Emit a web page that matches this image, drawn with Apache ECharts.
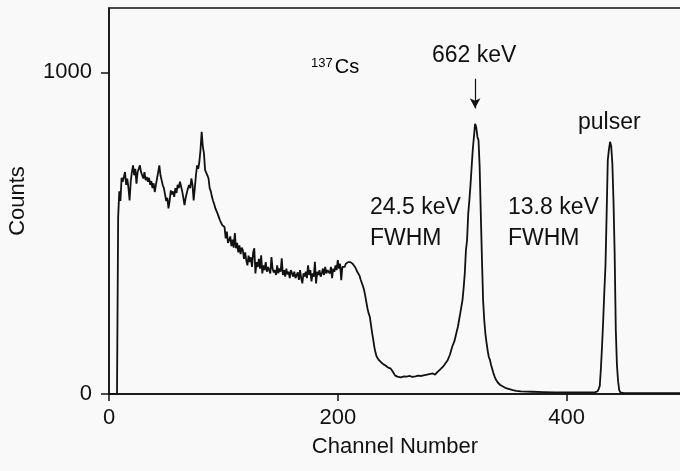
<!DOCTYPE html>
<html>
<head>
<meta charset="utf-8">
<script src="https://cdn.jsdelivr.net/npm/echarts@6/dist/echarts.min.js"></script>
<style>
  html, body { margin: 0; padding: 0; background: #f9f9f9; }
  #chart { width: 680px; height: 471px; }
</style>
</head>
<body>
<div id="chart"></div>
<script>
// 137Cs spectrum.
// one count per channel from channel 8 to 240 (the noisy continuum)
const firstBinChannel = 8;
const binCounts = [
  550, 630, 600, 672, 660, 675, 690, 650, 670, 640, 602, 660, 690, 711, 680, 700, 654, 690, 700, 711,   // 8-27
  690, 680, 670, 690, 665, 675, 660, 672, 650, 662, 640, 655, 628, 650, 670, 690, 711, 680, 665, 649,   // 28-47
  640, 620, 600, 610, 577, 600, 633, 620, 630, 613, 640, 625, 650, 640, 660, 645, 630, 610, 587, 610,   // 48-67
  625, 639, 650, 640, 670, 650, 602, 640, 680, 711, 700, 722, 760, 815, 770, 748, 696, 700, 680, 670,   // 68-87
  640, 630, 613, 600, 590, 577, 580, 560, 550, 540, 545, 525, 530, 519, 484, 505, 470, 478, 490, 460,   // 88-107
  480, 455, 500, 453, 470, 440, 462, 435, 455, 447, 420, 440, 416, 400, 430, 410, 425, 395, 440, 453,   // 108-127
  375, 410, 395, 420, 390, 431, 375, 400, 385, 410, 380, 395, 385, 375, 426, 390, 378, 385, 370, 400,   // 128-147
  375, 390, 380, 422, 370, 385, 365, 390, 372, 380, 360, 385, 375, 365, 380, 360, 364, 378, 355, 385,   // 148-167
  360, 344, 375, 365, 380, 360, 400, 370, 385, 350, 375, 365, 411, 344, 380, 370, 385, 365, 375, 390,   // 168-187
  370, 395, 375, 385, 391, 375, 395, 360, 390, 380, 400, 385, 416, 390, 405, 354, 395, 400, 395, 405,   // 188-207
  408, 410, 406, 410, 408, 405, 400, 395, 388, 380, 375, 368, 355, 345, 335, 323, 305, 285, 265, 250,   // 208-227
  240, 215, 190, 168, 145, 128, 116, 110, 105, 100, 98, 95, 92                                          // 228-240
];
// below the threshold and beyond channel 240 (peaks and tail)
const lowChannels = [0, 7];
const lowCounts = [0, 0];
const peakChannels = [
  242, 244, 246, 248, 250, 252, 255, 258, 260, 263, 265, 268, 270, 273, 275, 278, 280, 283, 285, 287,
  290, 292, 294, 296, 298, 300, 302, 304, 305, 306, 307, 308, 309, 310, 311, 312, 313, 314, 315, 316,
  317, 318, 319, 320, 321, 322, 323, 324, 325, 326, 327, 328, 329, 330, 331, 332, 333, 334, 335, 336,
  337, 338, 339, 340, 342, 344, 347, 350, 353, 356, 360, 370, 380, 390, 400, 410, 420, 425, 427, 428,
  429, 430, 431, 432, 433, 434, 435, 436, 437, 438, 439, 440, 441, 442, 443, 444, 445, 446, 447, 450,
  470, 500
];
const peakCounts = [
  88, 82, 80, 70, 58, 54, 52, 55, 54, 56, 53, 55, 57, 56, 58, 60, 62, 64, 60, 68,
  78, 85, 95, 105, 122, 147, 165, 195, 209, 230, 250, 271, 292, 330, 375, 447, 478, 560, 602, 650,
  706, 760, 800, 840, 830, 800, 789, 706, 560, 420, 292, 230, 188, 160, 135, 115, 106, 90, 78, 65,
  55, 46, 40, 35, 28, 24, 18, 15, 12, 10, 8, 7, 6, 5, 5, 5, 5, 6, 8, 15,
  25, 80, 150, 230, 320, 400, 560, 727, 760, 784, 770, 716, 600, 437, 200, 90, 40, 12, 5, 3,
  3, 3
];
const xTicks = [0, 200, 400];
const yTicks = [0, 1000];

const ink = '#111';
const font = 'Liberation Sans, Arial, sans-serif';

const spectrum = []
  .concat(lowChannels.map((c, i) => [c, lowCounts[i]]))
  .concat(binCounts.map((v, i) => [firstBinChannel + i, v]))
  .concat(peakChannels.map((c, i) => [c, peakCounts[i]]));

const chart = echarts.init(document.getElementById('chart'));

function label(text, x, y, size) {
  return {
    type: 'text', left: x, top: y,
    style: { text: text, fill: ink, font: size + 'px ' + font }
  };
}

chart.setOption({
  backgroundColor: '#f9f9f9',
  animation: false,
  grid: {
    left: 109, top: 8, width: 572, height: 386,
    outerBoundsMode: 'none', containLabel: false,
    show: true, borderColor: ink, borderWidth: 1.5, backgroundColor: 'transparent'
  },
  xAxis: {
    type: 'value', min: 0, max: 500,
    name: 'Channel Number', nameLocation: 'middle', nameGap: 42,
    nameTextStyle: { color: ink, fontSize: 22, fontFamily: font },
    axisLine: { show: true, lineStyle: { color: ink, width: 1.5 } },
    axisTick: { show: true, length: 7, customValues: xTicks, lineStyle: { color: ink, width: 1.5 } },
    axisLabel: { customValues: xTicks, color: ink, fontSize: 22, fontFamily: font, margin: 13, formatter: v => String(v) },
    splitLine: { show: false }
  },
  yAxis: {
    type: 'value', min: 0, max: 1200,
    name: 'Counts', nameLocation: 'middle', nameGap: 80,
    nameTextStyle: { color: ink, fontSize: 22, fontFamily: font },
    axisLine: { show: true, lineStyle: { color: ink, width: 1.5 } },
    axisTick: { show: true, length: 8, customValues: yTicks, lineStyle: { color: ink, width: 1.5 } },
    axisLabel: { customValues: yTicks, color: ink, fontSize: 22, fontFamily: font, margin: 17, formatter: v => String(v) },
    splitLine: { show: false }
  },
  graphic: [
    label('662 keV', 432, 44, 23),
    label('pulser', 578, 111, 23),
    label('24.5 keV', 370, 196, 23),
    label('FWHM', 370, 227, 23),
    label('13.8 keV', 508, 196, 23),
    label('FWHM', 508, 227, 23),
    {
      type: 'text', left: 311, top: 57,
      style: {
        text: '{sup|137}{el|Cs}',
        rich: {
          sup: { fontSize: 13, fontFamily: font, color: ink, verticalAlign: 'top', padding: [0, 2, 0, 0] },
          el: { fontSize: 20, fontFamily: font, color: ink }
        }
      }
    }
  ],
  series: [{
    type: 'line',
    data: spectrum,
    showSymbol: false,
    lineStyle: { color: ink, width: 1.8 },
    markLine: {
      silent: true,
      symbol: ['none', 'arrow'],
      symbolSize: [8, 10],
      label: { show: false },
      lineStyle: { color: ink, width: 1.2, type: 'solid' },
      data: [[{ coord: [320, 980] }, { coord: [320, 888] }]]
    }
  }]
});
</script>
</body>
</html>
